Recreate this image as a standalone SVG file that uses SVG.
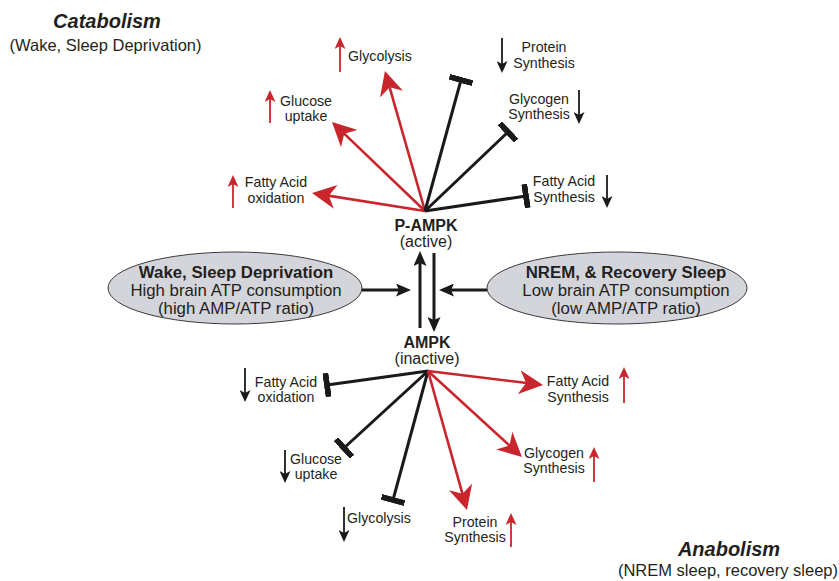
<svg xmlns="http://www.w3.org/2000/svg" width="839" height="581" viewBox="0 0 839 581">
<style>
text{font-family:"Liberation Sans",Arial,sans-serif;fill:#231f20}
.lbl{font-size:14.2px}
.mid{text-anchor:middle}
.big{font-size:16px}
.ell-t{font-size:16.8px}
.b{font-weight:bold}
.title{font-size:20px;font-weight:bold;font-style:italic;text-anchor:middle}
.sub{font-size:16.5px;text-anchor:middle}
.red{stroke:#c9252c;stroke-width:2.6;fill:none}
.blk{stroke:#1a1a1a;stroke-width:3;fill:none}
.sred{stroke:#c9252c;stroke-width:1.8;fill:none}
.sblk{stroke:#1a1a1a;stroke-width:1.8;fill:none}
.main{stroke:#1a1a1a;stroke-width:3;fill:none}
.ell{fill:#d3d5db;stroke:#3a3a3a;stroke-width:1}
</style>
<defs>
<marker id="ahRed" viewBox="0 0 24 24" refX="14" refY="12" markerWidth="24" markerHeight="24" markerUnits="userSpaceOnUse" orient="auto"><path d="M24,12 L0,0 L7,12 L0,24 Z" fill="#c9252c"/></marker>
<marker id="bar" viewBox="0 0 6 24" refX="3" refY="12" markerWidth="6" markerHeight="24" markerUnits="userSpaceOnUse" orient="auto"><rect x="0" y="0" width="6" height="24" fill="#1a1a1a"/></marker>
<marker id="smRed" viewBox="0 0 12 11" refX="6" refY="5.5" markerWidth="12" markerHeight="11" markerUnits="userSpaceOnUse" orient="auto"><path d="M12,5.5 L0,0 L3,5.5 L0,11 Z" fill="#c9252c"/></marker>
<marker id="smBlk" viewBox="0 0 12 11" refX="6" refY="5.5" markerWidth="12" markerHeight="11" markerUnits="userSpaceOnUse" orient="auto"><path d="M12,5.5 L0,0 L3,5.5 L0,11 Z" fill="#1a1a1a"/></marker>
<marker id="bigBlk" viewBox="0 0 15 13" refX="7" refY="6.5" markerWidth="15" markerHeight="13" markerUnits="userSpaceOnUse" orient="auto"><path d="M15,6.5 L0,0 L3,6.5 L0,13 Z" fill="#1a1a1a"/></marker>
</defs>

<g id="titles">
<text class="title" x="107" y="28">Catabolism</text>
<text class="sub" x="105.5" y="51">(Wake, Sleep Deprivation)</text>
<text class="title" x="729" y="556">Anabolism</text>
<text class="sub" x="728" y="576">(NREM sleep, recovery sleep)</text>
</g>

<g id="connectors">
<!-- top fan from P-AMPK -->
<line class="red" x1="425" y1="211" x2="321.9" y2="194.6" marker-end="url(#ahRed)"/>
<line class="red" x1="425" y1="211" x2="339.2" y2="128.9" marker-end="url(#ahRed)"/>
<line class="red" x1="425" y1="211" x2="387.7" y2="80.6" marker-end="url(#ahRed)"/>
<line class="blk" x1="425" y1="211" x2="461" y2="80" marker-end="url(#bar)"/>
<line class="blk" x1="425" y1="211" x2="508" y2="132" marker-end="url(#bar)"/>
<line class="blk" x1="425" y1="211" x2="526" y2="196" marker-end="url(#bar)"/>
<!-- bottom fan from AMPK -->
<line class="blk" x1="428" y1="371" x2="327" y2="385" marker-end="url(#bar)"/>
<line class="blk" x1="428" y1="371" x2="344" y2="448" marker-end="url(#bar)"/>
<line class="blk" x1="428" y1="371" x2="393" y2="500" marker-end="url(#bar)"/>
<line class="red" x1="428" y1="371" x2="464.3" y2="500.4" marker-end="url(#ahRed)"/>
<line class="red" x1="428" y1="371" x2="514.6" y2="450.2" marker-end="url(#ahRed)"/>
<line class="red" x1="428" y1="371" x2="533.1" y2="383.8" marker-end="url(#ahRed)"/>
<!-- central arrows -->
<line class="main" x1="420" y1="328" x2="420" y2="259" marker-end="url(#bigBlk)"/>
<line class="main" x1="434" y1="253" x2="434" y2="324" marker-end="url(#bigBlk)"/>
<line class="main" x1="361" y1="290" x2="403" y2="290" marker-end="url(#bigBlk)"/>
<line class="main" x1="487" y1="290" x2="447" y2="290" marker-end="url(#bigBlk)"/>
</g>

<g id="p-ampk">
<text class="big b mid" x="426" y="231">P-AMPK</text>
<text class="big mid" x="426" y="247">(active)</text>
</g>
<g id="ampk">
<text class="big b mid" x="427" y="348">AMPK</text>
<text class="big mid" x="427" y="364">(inactive)</text>
</g>

<g id="wake-ellipse">
<ellipse class="ell" cx="235" cy="288" rx="127" ry="36"/>
<text class="ell-t b mid" x="236" y="278">Wake, Sleep Deprivation</text>
<text class="ell-t mid" x="236" y="296">High brain ATP consumption</text>
<text class="ell-t mid" x="236" y="314">(high AMP/ATP ratio)</text>
</g>
<g id="nrem-ellipse">
<ellipse class="ell" cx="617" cy="288" rx="130" ry="36"/>
<text class="ell-t b mid" x="626" y="278">NREM, &amp; Recovery Sleep</text>
<text class="ell-t mid" x="626" y="296">Low brain ATP consumption</text>
<text class="ell-t mid" x="626" y="314">(low AMP/ATP ratio)</text>
</g>

<!-- top labels -->
<g id="top-glycolysis">
<line class="sred" x1="340" y1="72" x2="340" y2="43" marker-end="url(#smRed)"/>
<text class="lbl" x="348" y="61">Glycolysis</text>
</g>
<g id="top-glucose">
<line class="sred" x1="270" y1="123" x2="270" y2="96" marker-end="url(#smRed)"/>
<text class="lbl mid" x="306" y="106">Glucose</text>
<text class="lbl mid" x="306" y="121">uptake</text>
</g>
<g id="top-fao">
<line class="sred" x1="233" y1="208" x2="233" y2="181" marker-end="url(#smRed)"/>
<text class="lbl mid" x="276" y="187">Fatty Acid</text>
<text class="lbl mid" x="276" y="203">oxidation</text>
</g>
<g id="top-protein">
<line class="sblk" x1="502" y1="38" x2="502" y2="67" marker-end="url(#smBlk)"/>
<text class="lbl mid" x="544" y="52">Protein</text>
<text class="lbl mid" x="544" y="68">Synthesis</text>
</g>
<g id="top-glycogen">
<line class="sblk" x1="579" y1="90" x2="579" y2="118" marker-end="url(#smBlk)"/>
<text class="lbl mid" x="539" y="104">Glycogen</text>
<text class="lbl mid" x="539" y="119">Synthesis</text>
</g>
<g id="top-fas">
<line class="sblk" x1="607" y1="175" x2="607" y2="202" marker-end="url(#smBlk)"/>
<text class="lbl mid" x="564" y="186">Fatty Acid</text>
<text class="lbl mid" x="564" y="202">Synthesis</text>
</g>

<!-- bottom labels -->
<g id="bot-fao">
<line class="sblk" x1="245" y1="368" x2="245" y2="396" marker-end="url(#smBlk)"/>
<text class="lbl mid" x="286" y="387">Fatty Acid</text>
<text class="lbl mid" x="286" y="402">oxidation</text>
</g>
<g id="bot-glucose">
<line class="sblk" x1="285" y1="450" x2="285" y2="477" marker-end="url(#smBlk)"/>
<text class="lbl mid" x="316" y="464">Glucose</text>
<text class="lbl mid" x="316" y="479">uptake</text>
</g>
<g id="bot-glycolysis">
<line class="sblk" x1="344" y1="507" x2="344" y2="536" marker-end="url(#smBlk)"/>
<text class="lbl" x="347" y="523">Glycolysis</text>
</g>
<g id="bot-protein">
<line class="sred" x1="511" y1="547" x2="511" y2="519" marker-end="url(#smRed)"/>
<text class="lbl mid" x="475" y="527">Protein</text>
<text class="lbl mid" x="475" y="542">Synthesis</text>
</g>
<g id="bot-glycogen">
<line class="sred" x1="594" y1="482" x2="594" y2="453" marker-end="url(#smRed)"/>
<text class="lbl mid" x="554" y="458">Glycogen</text>
<text class="lbl mid" x="554" y="473">Synthesis</text>
</g>
<g id="bot-fas">
<line class="sred" x1="624" y1="403" x2="624" y2="373" marker-end="url(#smRed)"/>
<text class="lbl mid" x="578" y="386">Fatty Acid</text>
<text class="lbl mid" x="578" y="402">Synthesis</text>
</g>
</svg>
